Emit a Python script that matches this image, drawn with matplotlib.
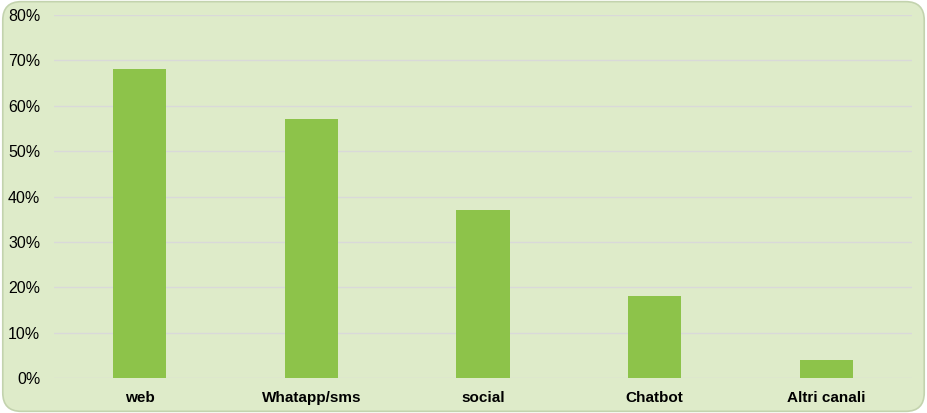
import matplotlib.pyplot as plt
from matplotlib.patches import FancyBboxPatch
from matplotlib.ticker import FuncFormatter

categories = ["web", "Whatapp/sms", "social", "Chatbot", "Altri canali"]
values = [68, 57, 37, 18, 4]

bg = "#DEEBC9"
bar_color = "#8DC34A"

plt.rcParams['font.family'] = ['Liberation Sans', 'DejaVu Sans']

fig = plt.figure(figsize=(9.27, 4.13), dpi=100)
fig.patch.set_facecolor("white")
frame = FancyBboxPatch((0.003, 0.004), 0.994, 0.992,
                       boxstyle="round,pad=0,rounding_size=0.02",
                       transform=fig.transFigure, facecolor=bg,
                       edgecolor="#C3D3AE", linewidth=1.2, mutation_aspect=927 / 413,
                       zorder=-10)
fig.patches.append(frame)

ax = fig.add_axes([0.0583, 0.0847, 0.9255, 0.879])
ax.set_facecolor("none")
ax.bar(range(len(categories)), values, width=0.31, color=bar_color, zorder=2)

ax.set_xlim(-0.5, len(categories) - 0.5)
ax.set_ylim(0, 80)
ax.set_yticks(range(0, 81, 10))
ax.yaxis.set_major_formatter(FuncFormatter(lambda v, p: f"{int(v)}%"))
ax.set_xticks(range(len(categories)))
ax.set_xticklabels(categories, fontweight="bold")
ax.grid(axis="y", color="#D9D9D9", linewidth=1, zorder=0)
for s in ax.spines.values():
    s.set_visible(False)
ax.tick_params(axis="both", length=0, labelsize=11.5, colors="black")
ax.tick_params(axis="x", pad=9, labelsize=11)
ax.tick_params(axis="y", pad=10)
for lbl in ax.get_yticklabels():
    lbl.set_horizontalalignment("right")

fig.savefig("out.png", dpi=100)
